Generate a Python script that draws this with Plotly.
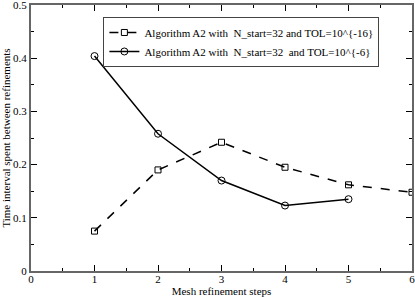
import plotly.graph_objects as go

steps_a = [1, 2, 3, 4, 5, 6]
time_a = [0.075, 0.19, 0.242, 0.195, 0.162, 0.148]
steps_b = [1, 2, 3, 4, 5]
time_b = [0.404, 0.258, 0.17, 0.123, 0.135]
name_a = "Algorithm A2 with\u00a0 N_start=32 and TOL=10^{-16}"
name_b = "Algorithm A2 with\u00a0 N_start=32\u00a0 and TOL=10^{-6}"

font = "Liberation Serif"

fig = go.Figure()
fig.add_trace(go.Scatter(x=steps_a, y=time_a, mode="lines+markers", name=name_a,
                         line=dict(color="black", width=1.5, dash="dash"),
                         marker=dict(symbol="square-open", size=6, color="black", line=dict(width=1))))
fig.add_trace(go.Scatter(x=steps_b, y=time_b, mode="lines+markers", name=name_b,
                         line=dict(color="black", width=1.5),
                         marker=dict(symbol="circle-open", size=7, color="black", line=dict(width=1))))

axcommon = dict(showgrid=False, zeroline=False, ticks="inside", mirror="allticks",
                showline=True, linecolor="#666", linewidth=2, tickcolor="black",
                ticklen=6, tickwidth=1, automargin=False, ticklabeloverflow="allow",
                tickfont=dict(family=font, size=11, color="black"))
fig.update_xaxes(range=[0, 6], dtick=1, ticklabelstandoff=-3,
                 title=dict(text="Mesh refinement steps", standoff=0,
                            font=dict(family=font, size=11, color="black")),
                 minor=dict(ticks="inside", dtick=0.5, ticklen=3, tickcolor="black"), **axcommon)
fig.update_yaxes(range=[0, 0.5], dtick=0.1,
                 title=dict(text="Time interval spent between refinements", standoff=2,
                            font=dict(family=font, size=11, color="black")),
                 minor=dict(ticks="inside", dtick=0.05, ticklen=3, tickcolor="black"), **axcommon)
fig.update_layout(width=415, height=297, margin=dict(l=31, r=3, t=5, b=26),
                  plot_bgcolor="white", paper_bgcolor="white",
                  font=dict(family=font, size=11, color="black"),
                  legend=dict(x=0.19, y=0.955, xanchor="left", yanchor="top",
                              bgcolor="white", bordercolor="#444", borderwidth=1,
                              font=dict(family=font, size=11), tracegroupgap=0,
                              itemwidth=30))
fig.write_html("out.html", config={"displayModeBar": False},
               post_script="document.body.style.margin='0';document.body.style.overflow='hidden';")
